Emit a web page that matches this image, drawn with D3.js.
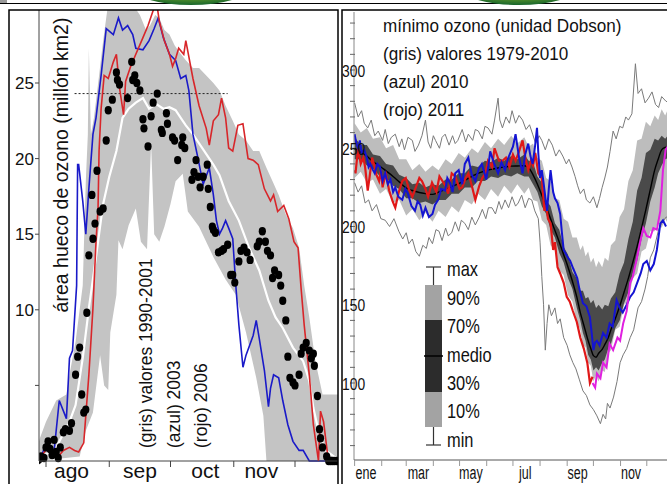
<!DOCTYPE html>
<html>
<head>
<meta charset="utf-8">
<script src="https://cdn.jsdelivr.net/npm/d3@7/dist/d3.min.js"></script>
<style>
body { margin: 0; background: #fff; }
svg { display: block; font-family: "Liberation Sans", Arial, sans-serif; }
</style>
</head>
<body>
<div id="chart"></div>
<script>
// ---------- left panel: ozone hole area (million km2), days counted from 1 Aug ----------
const leftMonthTicks = [0, 31, 61, 92, 122]
const leftMonthNames = ["ago", "sep", "oct", "nov"]
const leftMonthLabelDays = [12.5, 46, 78, 105.5]
const leftYTicks = [5, 10, 15, 20, 25]
const leftYLabels = ["", "10", "15", "20", "25"]

const greyMax = [[-5,0.5],[-3,1.5],[0,2.6],[5,4],[10,4.4],[11.5,5.7],[14.5,7.9],[18,11.6],[19.5,18.5],[20.5,21.6],[21,27.3],[22,21.6],[23.5,22.7],[26,25.5],[28,27.8],[30,29.8],[32,30.5],[41,30.5],[46,29.5],[49,28.5],[51,28.8],[53.5,29.5],[55.5,29.3],[58,28.5],[60.5,28.2],[63,27.5],[65,27.1],[68.5,26.5],[72,26],[75,26],[78.5,25.5],[82,25],[85,24.5],[88,23.5],[91.5,22.5],[94.5,21.6],[98,21.2],[101.5,20.5],[104.5,20.5],[108,19.4],[111,18.5],[114,17.6],[117.5,16.3],[121,15.4],[124,14.1],[126.5,11.6],[129,9.5],[132,6.6],[135.5,4.4],[138.5,4.4],[144,4.4]]
const greyMin = [[-5,0],[16.5,0.3],[19.5,2],[23,3.2],[26.5,7],[28.5,5],[30.5,4.7],[31.5,8.5],[34.5,11],[35.5,14.6],[37.5,14],[40.5,15.6],[44,16.7],[46.5,14.5],[49.5,14],[51.5,21],[53,15],[55.5,14.5],[58,15.5],[61,17],[63.5,18.5],[67,19],[69.5,16.5],[75,15.5],[82,13.5],[88,12],[93,11],[98,8.5],[103,5.5],[106.5,3],[108,0],[144,0]]

const meanWhite = [[-1.5,0.3],[5,0.9],[11.5,2.6],[14.5,3.7],[18,6.8],[21,10.1],[24.5,13.5],[28,17],[31,18.8],[34.5,20.5],[37.5,22.7],[40.5,23.3],[44,23.7],[47.5,24],[50.5,23.3],[54,23.6],[57.5,23.3],[60.5,23.4],[63.5,23.2],[67,22.5],[68.5,22.2],[72,21.6],[75,21],[82,19.6],[85,18.9],[89.5,17.2],[94.5,15.9],[99.5,14.1],[104.5,12.6],[109,10.6],[112.5,9.5],[116,8.8],[121,7.5],[126,6.6],[129,5.3],[131,3.5],[134,1.7],[137,0.7],[142,0.2]]

const blue2003 = [[-3,0],[0,1.2],[4,0.7],[6.5,4],[10,2.8],[11.5,6.8],[13,7.3],[15,11.6],[15.5,19.6],[16,19.6],[18,17.2],[19.5,15],[21,18],[23,21.6],[24.5,22.7],[27,25.5],[29.5,28.6],[33,28.2],[35.5,29.3],[37.5,28.5],[40,28.8],[42.5,28.2],[44,27.3],[47.5,27.2],[50.5,27.8],[53,28.6],[55,29.3],[57.5,28],[60.5,26.9],[63.5,26.5],[66,25.3],[68.5,25.5],[70,24.5],[72,21.6],[74.5,20],[77,18.3],[80,19.4],[82,17.6],[83.5,15.9],[85,15],[86.5,15.4],[88,15.9],[89.5,15.4],[91.5,14.7],[93,11.6],[94.5,9],[96.5,6.2],[98,7],[101.5,8.3],[103,9.3],[104.5,8.1],[107,6],[109,3.6],[110,4.8],[111.5,5.7],[114,5.5],[116,4],[118.5,2.4],[121,1.3],[124,0.7],[126,0.7],[129,0],[144,0]]

const red2006 = [[-2.5,0.3],[1,0.9],[3.5,0.7],[6,0.3],[8.5,0.7],[11.5,0.9],[14,0.7],[16,0.6],[18.5,1.2],[19.5,3],[21,5.7],[23,10.1],[24.5,14.5],[25.5,16.7],[26,20.5],[27,23.3],[28.5,25.5],[30.5,25.3],[33,26.4],[34.5,26.9],[36,24.7],[38,22.9],[39,25.1],[41.5,26.1],[44,26.9],[47.5,28],[50,28.8],[52.5,29.8],[54,30.5],[55.5,29.1],[58,27.8],[60.5,26.9],[62,26.1],[63.5,26.6],[65,27.3],[67.5,26.9],[68.5,27.8],[72,25.3],[75,23.5],[78.5,22],[80,20.9],[82,22.5],[84.5,22.9],[86,24],[88,22.7],[89.5,20.7],[91.5,20.5],[94,22.2],[96.5,22.3],[99,20],[101.5,19.9],[104,19.6],[107,18],[110,17.2],[111.5,17.6],[113.5,16.5],[116.5,16.9],[119,16],[121.5,14.5],[123.5,14.1],[125,11.4],[126.5,9],[129,5.7],[131,2.4],[133.5,0],[134.5,3.3],[136,2.6],[138,0.4],[140.5,0],[144,0]]

const dotsYear = [[-4.5,0],[-3.5,0.1],[-2.5,0.3],[-1,0.2],[0,0.9],[1,1.3],[2,0.8],[3,0.4],[4,1.4],[5,0.6],[6,0.2],[7,0.9],[8.5,1.9],[9.5,2.1],[11.5,2],[12.5,2.5],[14.5,5.7],[15.5,6.9],[16.5,7.5],[17.5,4.4],[18.5,3.2],[19.5,3.4],[20,9.8],[21,13.6],[22.5,17.6],[23,14.7],[24,15.7],[25,19.2],[26.5,16.5],[28,16.7],[29.5,21.2],[30.5,23.2],[32.5,23.9],[34.5,25.7],[35,25.2],[36,24.9],[40,24],[42,26.4],[42.5,25.2],[43.5,25.5],[44.5,25],[46,24.5],[47.5,22.6],[48,22],[50,20.8],[51.5,22.8],[52.5,23.7],[54.5,24.3],[56.5,21.9],[57,21.7],[59,23],[59.5,22.3],[62,21.4],[63,21.2],[64.5,19.9],[66.5,20.9],[67,21.4],[68,20.7],[71.5,18.6],[72.5,19.1],[73.5,19.9],[74.5,18.8],[75.5,18.1],[77,18.8],[79,19.6],[79.5,18],[80.5,16.8],[81.5,15.5],[82,15.3],[83,15.1],[84.5,13.8],[86,13.9],[87,14],[89,14.3],[90.5,12.3],[91.5,12.3],[92.5,11.8],[94.5,13.2],[95.5,13.9],[97,14.1],[98.5,13.8],[100,13.3],[103.5,14.2],[104.5,14.5],[106,15.2],[107.5,14.5],[108.5,13.9],[110,13.6],[111,12.1],[112,12.6],[114,12.3],[115,11.6],[116,10.6],[117.5,9.3],[118.5,6.9],[119.5,5.5],[121,5.2],[122,5],[124,5.7],[125,7.1],[126,7.5],[127.5,7.8],[129,7.3],[130,6.8],[131,7.1],[131.5,6.3],[133,4.3],[134,2.1],[134.5,1.5],[135.5,0.9],[137.5,0.3],[138.5,0],[139.5,0],[140.5,0],[141.5,0],[142.5,0],[143.5,0]]

const refDays = [14, 89]
const refValue = 24.3

const leftTitle = "área hueco de ozono (millón km2)"
const leftNotes = ["(gris) valores 1990-2001", "(azul) 2003", "(rojo) 2006"]

// ---------- right panel: minimum ozone (Dobson units), day of year ----------
const rightMonthTicks = [1, 32, 60, 91, 121, 152, 182, 213, 244, 274, 305, 335]
const rightMonthNames = ["ene", "mar", "may", "jul", "sep", "nov"]
const rightMonthLabelDays = [14, 74, 134, 196, 256, 317]
const rightYLabels = [100, 150, 200, 250, 300]

const bandDays = [1,8,15,22,30,37,45,52,60,67,75,82,90,97,105,112,120,127,135,142,150,157,165,172,180,187,195,200,205,210,215,220,225,230,235,240,245,250,255,259,262,265,268,271,274,277,280,284,287,291,294,299,304,309,314,319,324,329,334,339,344,348,352,356,360,366]
const p90 = [266,260,263,256,257,250,252,243,243,236,240,235,239,236,243,240,247,244,250,247,254,250,256,252,258,253,257,251,253,244,242,231,229,218,217,205,203,193,193,185,188,181,184,177,180,174,178,174,180,178,188,191,206,211,229,236,255,256,267,264,271,268,275,271,276,274]
const p70 = [257,252,252,246,245,240,239,233,231,227,228,225,227,226,230,230,234,234,239,238,242,241,244,242,245,243,246,242,241,232,228,217,213,202,198,187,182,171,167,159,159,154,155,151,153,148,150,147,150,149,154,158,170,177,192,203,223,231,247,249,256,255,258,256,259,258]
const median = [250,247.5,245,241.5,238.5,235.5,232,228.5,224.6,223,221.7,221,220.5,222,223.7,225.5,227.4,229.5,232,234,235.5,236.5,237.4,238,238.6,238.7,238.8,237.5,233,227,220,212.5,205,197.5,190,182,174,165,155,145,139,133,127,122,117.5,116.5,119,121.5,124.5,129,134,141,149,158,167,177,187.5,199,211,223.5,236,243,249,250.5,251,251]
const p30 = [243,243,239,237,232,231,226,224,218,218,215,216,214,217,217,221,221,225,225,229,229,232,231,233,232,234,232,232,227,222,213,208,198,193,183,177,167,160,148,140,132,127,118,115,108,110,108,113,115,122,125,135,140,151,158,170,178,192,202,216,225,234,239,243,244,245]
const p10 = [231,235,228,230,221,224,215,217,207,211,204,209,203,210,206,213,209,217,214,221,217,224,219,226,221,227,221,225,217,216,204,201,188,185,172,169,156,152,139,134,124,123,113,111,101,105,101,108,107,119,121,134,136,150,152,167,170,184,186,197,197,203,199,205,201,204]

const maxLine = [[1,279],[5,270],[9,274],[12,266],[16,263],[20,268],[24,258],[28,261],[33,255],[36,262],[39.5,253],[43,257],[47.5,259],[52,251],[55,256],[58,249],[62,257],[67,255],[70,248],[74,252],[78,258],[82,268],[85,254],[88,250],[91,258],[93.5,255],[98,250],[101,257],[104.5,259],[109,252],[113,258],[116,253],[119,255],[124,262],[128,254],[131,259],[136,255],[139,262],[142.5,261],[147,256],[150,264],[153.5,263],[158,259],[161,268],[165,282],[167,268],[170,263],[174,270],[178,266],[181,274],[185,266],[189,271],[193,268],[197,262],[201,265],[204.5,259],[208,253],[212,258],[215,255],[219,249],[223,256],[227,252],[231,245],[235,249],[239,245],[243,240],[246,243],[249.5,238],[253,232],[256,226],[259,221],[263,224],[266,217],[270,215],[274,219],[278,212],[281,218],[284,225],[287,231],[290,238],[293,248],[296.5,261],[300,256],[304,264],[307.5,263],[311,270],[314,268],[318,272],[322,304],[325,285],[329,288],[333,279],[337,282],[341,286],[345,278],[348.5,276],[352,283],[357,280],[366,278]]
const minLine = [[1,228],[5,222],[9,226],[13,215],[17,217],[21,210],[26,214],[31,205],[36,204],[41,200],[46,205],[51.5,197],[56,192],[60,196],[63,189],[67,192],[71,184],[75,181],[79,188],[83,186],[86,193],[90,189],[94,198],[97.5,197],[101,191],[105,199],[108,194],[112,196],[116,203],[120,197],[123,204],[127,202],[131,198],[135,206],[139,201],[143.5,206],[147,211],[151,205],[154,212],[158,212],[162,208],[166,216],[169,211],[173,217],[177,212],[181,219],[185,213],[188,215],[192,220],[196,212],[200,218],[203.5,217],[207,210],[211,205],[213,190],[215,168],[217,150],[219,121],[221,138],[223,150],[226,143],[230,148],[233,138],[236,141],[240,129],[244,124],[247,118],[250.5,113],[254,109],[258,102],[262,95],[266,92],[270,86],[274,83],[278,79],[282,74],[285,80],[288,77],[290,87],[293,84],[297,91],[301,101],[304.5,113],[308,118],[312,122],[316,129],[320,134],[325,148],[329,152],[333,160],[336,168],[339,180],[343,185],[348.5,198],[352,202],[357,206],[366,206]]

const blue2010 = [[1,259],[3,253],[5,250],[7,255],[9,247],[12,249],[15,244],[17,238],[19,240],[22,236],[24,234],[27,240],[30,238],[33,229],[36,234],[39,227],[42,230],[45,222],[47.5,225],[51,219],[55.5,217],[59,224],[62,221],[66,213],[70,210],[73,216],[76,214],[79,207],[82,212],[86,206],[90,208],[93,214],[96.5,217],[100,224],[104.5,223],[107,231],[110,228],[113,222],[116,234],[120,236],[124,227],[127,240],[131,244],[135,233],[139,229],[143,237],[146.5,240],[149,235],[151.5,230],[154,239],[156,248],[160,241],[165,234],[169,241],[173,236],[176,243],[179,247],[182,251],[185,259],[189,244],[193,234],[196,246],[199.5,253],[202,245],[204.5,240],[207,250],[209.5,263],[211,247],[213,231],[215,236],[217,228],[219,219],[221,210],[223,224],[225,236],[228,222],[230,218],[233,215],[236,208],[238,196],[240,185],[244,181],[247.5,178],[251,173],[255.5,167],[258,160],[262,151],[266,149],[270,142],[272,132],[274,121],[276,126],[278,127],[281,124],[285,132],[289,129],[292.5,138],[296,136],[300.5,153],[304,148],[307.5,145],[312,150],[316,155],[320,158],[324,164],[328,170],[331,176],[335,178],[339,172],[343,176],[346.5,185],[350.5,202],[353.5,204],[357,200]]
const red2011 = [[1,236],[2,234],[5,250],[8,240],[11,244],[13,238],[16,223],[18,231],[21,244],[24,238],[26,233],[29,229],[31,236],[33,225],[35,230],[37,233],[40.5,223],[44.5,216],[47.5,212],[51.5,222],[55.5,229],[59.5,231],[63,224],[67,219],[71,225],[75,231],[78,229],[82,224],[85,219],[89.5,228],[94.5,222],[98,232],[101.5,229],[105,226],[108,221],[112,234],[116,232],[121,224],[124,225],[128,231],[131,234],[135,226],[139,217],[143.5,226],[147,231],[150.5,234],[153.5,242],[158,238],[161,250],[166,242],[170,242],[174,244],[178,238],[182,246],[185,242],[189,248],[193,255],[196.5,243],[199.5,236],[202.5,242],[205,239],[207.5,247],[211,234],[215,231],[218,210],[220,214],[222,205],[225,202],[228,185],[230,190],[233,174],[236,170],[240,164],[243.5,155],[247,152],[250.5,146],[255,139],[259,129],[263,122],[267,113],[270,100],[273,104]]
const magenta2011 = [[273,100],[276,97],[278,106],[282,103],[285,113],[289,110],[292.5,125],[296.5,121],[301.5,129],[304.5,127],[308,138],[312,146],[316,164],[319,168],[323,178],[327,189],[331,199],[335,194],[339,193],[342.5,199],[346.5,198],[350.5,210],[353.5,236],[356.5,249],[360,252]]

const rightNotes = ["mínimo ozono (unidad Dobson)", "(gris) valores 1979-2010", "(azul) 2010", "(rojo) 2011"]
const legendLabels = ["max", "90%", "70%", "medio", "30%", "10%", "min"]

// ---------- drawing ----------
const svg = d3.select("#chart").append("svg")
    .attr("width", 667)
    .attr("height", 484)

const defs = svg.append("defs")
const grad = defs.append("radialGradient").attr("id", "logo").attr("cx", "50%").attr("cy", "30%").attr("r", "70%")
grad.append("stop").attr("offset", "0%").attr("stop-color", "#c8d23c")
grad.append("stop").attr("offset", "55%").attr("stop-color", "#7fae2a")
grad.append("stop").attr("offset", "100%").attr("stop-color", "#17652c")

// page header remains
svg.append("rect").attr("x", 0).attr("y", 0).attr("width", 7).attr("height", 4).attr("fill", "#9a9a9a")
svg.append("line").attr("x1", 0).attr("x2", 667).attr("y1", 3.5).attr("y2", 3.5).attr("stroke", "#000").attr("stroke-width", 1.2)
svg.append("ellipse").attr("cx", 191).attr("cy", -12).attr("rx", 58).attr("ry", 17).attr("fill", "url(#logo)")
svg.append("ellipse").attr("cx", 519).attr("cy", -12).attr("rx", 58).attr("ry", 17).attr("fill", "url(#logo)")

defs.append("clipPath").attr("id", "clipL").append("rect").attr("x", 39).attr("y", 10).attr("width", 299).attr("height", 460)
defs.append("clipPath").attr("id", "clipR").append("rect").attr("x", 354).attr("y", 10).attr("width", 313).attr("height", 450)

// condensed text helper
function label(g, x, y, str, size, sx, anchor) {
  return g.append("text")
    .attr("transform", "translate(" + x + "," + y + ") scale(" + sx + ",1)")
    .attr("text-anchor", anchor || "start")
    .style("font-size", size + "px")
    .attr("fill", "#111")
    .text(str)
}

// ===== LEFT =====
const xL = d3.scaleLinear().domain([0, 122]).range([46, 295])
const yL = d3.scaleLinear().domain([0, 25]).range([461, 83])
const gL = svg.append("g")
const plotL = gL.append("g").attr("clip-path", "url(#clipL)")

const lineL = d3.line().x(d => xL(d[0])).y(d => yL(d[1]))

plotL.append("path")
  .attr("d", lineL(greyMax.concat(greyMin.slice().reverse())) + "Z")
  .attr("fill", "#c4c4c4")

plotL.append("line")
  .attr("x1", xL(refDays[0])).attr("x2", xL(refDays[1]))
  .attr("y1", yL(refValue)).attr("y2", yL(refValue))
  .attr("stroke", "#222").attr("stroke-width", 1).attr("stroke-dasharray", "2,2")

plotL.append("path").attr("d", lineL(meanWhite)).attr("fill", "none").attr("stroke", "#fff").attr("stroke-width", 2.2)
plotL.append("path").attr("d", lineL(blue2003)).attr("fill", "none").attr("stroke", "#1a1ac8").attr("stroke-width", 1.6)
plotL.append("path").attr("d", lineL(red2006)).attr("fill", "none").attr("stroke", "#d8262a").attr("stroke-width", 1.6)

plotL.selectAll("ellipse.dot")
  .data(dotsYear)
  .enter()
  .append("ellipse")
    .attr("class", "dot")
    .attr("cx", d => xL(d[0]))
    .attr("cy", d => yL(d[1]))
    .attr("rx", 3.6)
    .attr("ry", 4.2)
    .attr("fill", "#000")

// axes
gL.append("line").attr("x1", 39).attr("x2", 39).attr("y1", 10).attr("y2", 461).attr("stroke", "#444").attr("stroke-width", 1)
gL.append("line").attr("x1", 39).attr("x2", 338).attr("y1", 461).attr("y2", 461).attr("stroke", "#444").attr("stroke-width", 1)
leftYTicks.forEach((v, i) => {
  gL.append("line").attr("x1", 35).attr("x2", 39).attr("y1", yL(v)).attr("y2", yL(v)).attr("stroke", "#444")
  if (leftYLabels[i]) label(gL, 34, yL(v) + 6, leftYLabels[i], 17, 1, "end")
})
leftMonthTicks.forEach(d => {
  gL.append("line").attr("x1", xL(d)).attr("x2", xL(d)).attr("y1", 461).attr("y2", 467).attr("stroke", "#444")
})
leftMonthNames.forEach((m, i) => label(gL, xL(leftMonthLabelDays[i]), 478, m, 21, 1, "middle"))

label(gL, 0, 0, leftTitle, 19.5, 1, "middle").attr("transform", "translate(68,165) rotate(-90)")
const noteX = [152, 179.5, 207]
leftNotes.forEach((t, i) => {
  label(gL, 0, 0, t, 17.5, 1, "start").attr("transform", "translate(" + noteX[i] + ",448) rotate(-90)")
})

// frame
gL.append("rect").attr("x", 9).attr("y", 10).attr("width", 329).attr("height", 490)
  .attr("fill", "none").attr("stroke", "#000").attr("stroke-width", 1.5)

// ===== RIGHT =====
const xR = d3.scaleLinear().domain([1, 366]).range([354.6, 673.9])
const yR = d3.scaleLinear().domain([100, 300]).range([383, 70])
const gR = svg.append("g")
const plotR = gR.append("g").attr("clip-path", "url(#clipR)")

const bandRows = bandDays.map((d, i) => ({ d: d, p10: p10[i], p30: p30[i], med: median[i], p70: p70[i], p90: p90[i] }))
const areaR = (lo, hi) => d3.area().x(r => xR(r.d)).y0(r => yR(r[lo])).y1(r => yR(r[hi]))
const lineR = d3.line().x(d => xR(d[0])).y(d => yR(d[1]))

plotR.append("path").attr("d", areaR("p10", "p90")(bandRows)).attr("fill", "#bdbdbd")
plotR.append("path").attr("d", areaR("p30", "p70")(bandRows)).attr("fill", "#4a4a4a")
plotR.append("path").attr("d", lineR(maxLine)).attr("fill", "none").attr("stroke", "#7a7a7a").attr("stroke-width", 1)
plotR.append("path").attr("d", lineR(minLine)).attr("fill", "none").attr("stroke", "#7a7a7a").attr("stroke-width", 1)
plotR.append("path").attr("d", d3.line().x(r => xR(r.d)).y(r => yR(r.med)).curve(d3.curveMonotoneX)(bandRows))
  .attr("fill", "none").attr("stroke", "#000").attr("stroke-width", 1.4)
plotR.append("path").attr("d", lineR(red2011)).attr("fill", "none").attr("stroke", "#e01818").attr("stroke-width", 2.2)
plotR.append("path").attr("d", lineR(blue2010)).attr("fill", "none").attr("stroke", "#1414d2").attr("stroke-width", 2)
plotR.append("path").attr("d", lineR(magenta2011)).attr("fill", "none").attr("stroke", "#e020e0").attr("stroke-width", 2)

// axes
gR.append("line").attr("x1", 354).attr("x2", 354).attr("y1", 12).attr("y2", 460).attr("stroke", "#888").attr("stroke-width", 1)
gR.append("line").attr("x1", 354).attr("x2", 667).attr("y1", 460).attr("y2", 460).attr("stroke", "#555").attr("stroke-width", 1)
d3.range(60, 340, 10).forEach(v => {
  gR.append("line").attr("x1", 350).attr("x2", 355).attr("y1", yR(v)).attr("y2", yR(v)).attr("stroke", "#666")
})
rightYLabels.forEach(v => label(gR, 342, yR(v) + 6.5, String(v), 16.5, 0.84, "start"))
rightMonthTicks.forEach(d => {
  gR.append("line").attr("x1", xR(d)).attr("x2", xR(d)).attr("y1", 460).attr("y2", 466).attr("stroke", "#999")
})
rightMonthNames.forEach((m, i) => label(gR, xR(rightMonthLabelDays[i]), 479, m, 19, 0.66, "middle"))

const noteY = [32, 60, 88, 116]
rightNotes.forEach((t, i) => label(gR, 383, noteY[i], t, 18.5, 0.925, "start"))

// legend (schematic box)
const lg = gR.append("g")
lg.append("line").attr("x1", 433.5).attr("x2", 433.5).attr("y1", 267).attr("y2", 445).attr("stroke", "#333").attr("stroke-width", 1.2)
lg.append("line").attr("x1", 426).attr("x2", 441).attr("y1", 267).attr("y2", 267).attr("stroke", "#333").attr("stroke-width", 1.2)
lg.append("line").attr("x1", 426).attr("x2", 441).attr("y1", 445).attr("y2", 445).attr("stroke", "#333").attr("stroke-width", 1.2)
lg.append("rect").attr("x", 425).attr("y", 285).attr("width", 17).attr("height", 142).attr("fill", "#a3a3a3")
lg.append("rect").attr("x", 425).attr("y", 320).attr("width", 17).attr("height", 72).attr("fill", "#2c2c2c")
lg.append("line").attr("x1", 424).attr("x2", 443).attr("y1", 356).attr("y2", 356).attr("stroke", "#000").attr("stroke-width", 1.5)
const legendY = [276, 305, 333, 361.5, 390, 418, 446.5]
legendLabels.forEach((t, i) => label(lg, 447, legendY[i], t, 20.5, 0.8, "start"))

// frame
gR.append("rect").attr("x", 342).attr("y", 10).attr("width", 340).attr("height", 490)
  .attr("fill", "none").attr("stroke", "#000").attr("stroke-width", 1.5)
</script>
</body>
</html>
